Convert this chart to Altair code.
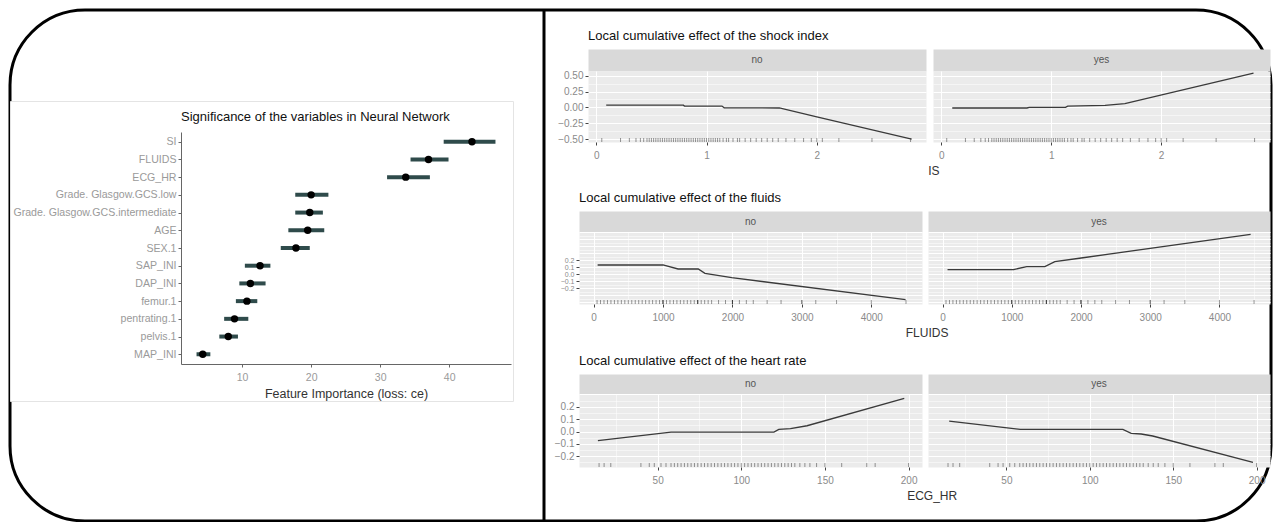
import altair as alt
import pandas as pd

# ---------------- data: feature importance ----------------
features = ["SI", "FLUIDS", "ECG_HR", "Grade. Glasgow.GCS.low", "Grade. Glasgow.GCS.intermediate",
            "AGE", "SEX.1", "SAP_INI", "DAP_INI", "femur.1", "pentrating.1", "pelvis.1", "MAP_INI"]
importance = [43.3, 37.0, 33.7, 20.0, 19.8, 19.5, 17.8, 12.6, 11.2, 10.7, 8.9, 8.0, 4.3]
imp_low = [39.2, 34.4, 31.0, 17.7, 17.7, 16.7, 15.6, 10.4, 9.6, 9.1, 7.4, 6.7, 3.4]
imp_high = [46.7, 39.9, 37.2, 22.5, 21.7, 21.9, 19.8, 14.1, 13.4, 12.2, 10.9, 9.4, 5.4]

# ---------------- data: ALE curves ----------------
si_no_x = [0.09, 0.79, 0.80, 1.14, 1.16, 1.66, 2.00, 2.86]
si_no_y = [0.035, 0.035, 0.02, 0.02, -0.006, -0.01, -0.15, -0.50]
si_yes_x = [0.10, 0.78, 0.80, 1.13, 1.15, 1.49, 1.67, 2.84]
si_yes_y = [-0.01, -0.01, 0.0, 0.0, 0.02, 0.03, 0.06, 0.54]
si_rug = [0.05, 0.22, 0.30, 0.36, 0.40, 0.43, 0.46, 0.48, 0.50, 0.52, 0.54, 0.56, 0.58, 0.60,
          0.62, 0.64, 0.66, 0.68, 0.70, 0.72, 0.74, 0.76, 0.78, 0.80, 0.82, 0.84, 0.86, 0.88,
          0.90, 0.92, 0.94, 0.96, 0.98, 1.00, 1.02, 1.04, 1.06, 1.08, 1.10, 1.12, 1.15, 1.18,
          1.20, 1.24, 1.28, 1.30, 1.35, 1.40, 1.45, 1.50, 1.55, 1.60, 1.65, 1.72, 1.80, 1.88,
          1.95, 2.00, 2.05, 2.20, 2.50, 2.85]

fl_no_x = [58, 1000, 1217, 1507, 1604, 1990, 4493]
fl_no_y = [0.133, 0.133, 0.076, 0.076, 0.014, -0.048, -0.362]
fl_yes_x = [72, 1025, 1216, 1478, 1622, 2003, 4450]
fl_yes_y = [0.067, 0.067, 0.11, 0.11, 0.181, 0.233, 0.571]
fl_rug = [50, 100, 150, 200, 250, 300, 350, 400, 450, 500, 550, 600, 650, 700, 750, 800, 850,
          900, 950, 1000, 1000, 1000, 1050, 1100, 1150, 1200, 1250, 1300, 1350, 1400, 1450,
          1500, 1500, 1500, 1550, 1600, 1650, 1700, 1800, 1900, 2000, 2000, 2000, 2100, 2200,
          2300, 2500, 2700, 3000, 3000, 3200, 3500, 4000, 4500]

hr_no_x = [14.3, 58, 119.5, 122.4, 129.4, 139.3, 197.4]
hr_no_y = [-0.074, -0.004, -0.004, 0.018, 0.023, 0.047, 0.269]
hr_yes_x = [15.7, 58.3, 119.8, 124.8, 130.8, 137.7, 197.8]
hr_yes_y = [0.085, 0.018, 0.018, -0.015, -0.02, -0.036, -0.25]
hr_rug = [15, 18, 22, 40, 45, 48, 52, 55, 58, 60, 62, 64, 66, 68, 70, 72, 74, 76, 78, 80, 82,
          84, 86, 88, 90, 92, 94, 96, 98, 100, 102, 104, 106, 108, 110, 112, 114, 116, 118, 120,
          122, 124, 126, 128, 130, 132, 135, 138, 141, 145, 150, 160, 175, 180, 200]

# axis tick positions (major + minor)
si_xticks = [0, 0.5, 1, 1.5, 2, 2.5]
si_yticks = [-0.5, -0.375, -0.25, -0.125, 0, 0.125, 0.25, 0.375, 0.5]
fl_xticks = [0, 500, 1000, 1500, 2000, 2500, 3000, 3500, 4000, 4500]
fl_yticks = [-0.4, -0.35, -0.3, -0.25, -0.2, -0.15, -0.1, -0.05, 0, 0.05, 0.1, 0.15, 0.2,
             0.25, 0.3, 0.35, 0.4, 0.45, 0.5, 0.55, 0.6]
hr_xticks = [25, 50, 75, 100, 125, 150, 175, 200]
hr_yticks = [-0.25, -0.2, -0.15, -0.1, -0.05, 0, 0.05, 0.1, 0.15, 0.2, 0.25, 0.3]

FONT = "Liberation Sans"
one = pd.DataFrame({"a": [""]})


def spacer(w, h):
    # empty block of a given size (invisible zero-size point, so it adds no overflow)
    return alt.Chart(one).mark_point(opacity=0, size=0, strokeWidth=0).properties(
        width=w, height=h)


def strip(label, w, h, title=""):
    c = alt.Chart(pd.DataFrame({"lab": [label]})).mark_text(
        fontSize=10, color="#555555", font=FONT
    ).encode(text="lab:N")
    props = dict(width=w, height=h,
                 view=alt.ViewBackground(fill="#d9d9d9", stroke="transparent"))
    if title:
        props["title"] = alt.TitleParams(title, anchor="start", fontSize=13, fontWeight="normal",
                                         color="#111111", offset=6, font=FONT)
    return c.properties(**props)


def ale_panel(xs, ys, rug, xdom, ydom, w, h, xticks, yticks, xmajor, ymajor, ylabrange,
              yfmt, show_y, ylabsize=10):
    dline = pd.DataFrame({"x": xs, "y": ys})
    drug = pd.DataFrame({"x": rug})
    xs_ = alt.Scale(domain=xdom, nice=False, zero=False)
    ys_ = alt.Scale(domain=ydom, nice=False, zero=False)
    xaxis = alt.Axis(
        values=xticks, format="d", labelExpr=f"({xmajor}) ? datum.label : ''",
        grid=True, gridColor="white",
        gridWidth={"condition": {"test": xmajor, "value": 1.1}, "value": 0.5},
        tickOpacity={"condition": {"test": xmajor, "value": 1}, "value": 0},
        domain=False, tickColor="#444444", tickSize=3, labelColor="#8a8a8a",
        labelFontSize=10, labelPadding=5, labelOverlap=False, labelFlush=False, title="",
    )
    ytest = f"({ymajor}) && abs(datum.value) <= {ylabrange}"
    if show_y:
        yaxis = alt.Axis(
            values=yticks, format=yfmt, labelExpr=f"({ytest}) ? datum.label : ''",
            grid=True, gridColor="white",
            gridWidth={"condition": {"test": ymajor, "value": 1.1}, "value": 0.5},
            tickOpacity={"condition": {"test": ytest, "value": 1}, "value": 0},
            domain=False, tickColor="#444444", tickSize=3, labelColor="#8a8a8a",
            labelFontSize=ylabsize, labelPadding=2, labelOverlap=False, labelFlush=False,
            title="",
        )
    else:
        yaxis = alt.Axis(
            values=yticks, labels=False, ticks=False, domain=False, grid=True,
            gridColor="white",
            gridWidth={"condition": {"test": ymajor, "value": 1.1}, "value": 0.5}, title="",
        )
    rug_layer = alt.Chart(drug).mark_rule(color="black", opacity=0.4, strokeWidth=1).encode(
        x=alt.X("x:Q", scale=xs_, axis=xaxis),
        y=alt.value(h - 4), y2=alt.value(h),
    )
    line_layer = alt.Chart(dline).mark_line(color="#3a3a3a", strokeWidth=1.3, clip=True).encode(
        x=alt.X("x:Q", scale=xs_, axis=xaxis),
        y=alt.Y("y:Q", scale=ys_, axis=yaxis),
    )
    return alt.layer(rug_layer, line_layer).properties(
        width=w, height=h, view=alt.ViewBackground(fill="#ebebeb", stroke="transparent")
    )


def ale_row(title, xtitle, dx, no_p, yes_p, wn, wy, gap, sh):
    col_no = alt.vconcat(strip("no", wn, sh, title), no_p, spacing=0, bounds="flush")
    col_yes = alt.vconcat(strip("yes", wy, sh), yes_p, spacing=0, bounds="flush")
    return alt.hconcat(
        col_no, col_yes, spacing=gap,
        title=alt.TitleParams(xtitle, orient="bottom", anchor="middle", dx=dx, fontSize=12,
                              fontWeight="normal", color="#333333", offset=5, font=FONT),
    )


# ---------------- left: importance dot plot ----------------
dimp = pd.DataFrame({"feature": features, "imp": importance, "lo": imp_low, "hi": imp_high})
ysc = alt.Scale(type="point", padding=0.55)
yax = alt.Axis(title="", labelColor="#9a9a9a", labelFontSize=10.6, tickColor="#666666",
               tickSize=3, domainColor="#666666", grid=False, labelPadding=2)
xsc = alt.Scale(domain=[1.15, 48.95], nice=False, zero=False)
xax = alt.Axis(values=[10, 20, 30, 40], title="Feature Importance (loss: ce)", titleFontSize=12.5,
               titleColor="#333333", titleFontWeight="normal", labelColor="#9a9a9a",
               labelFontSize=10.5, tickColor="#666666", domainColor="#666666", grid=False,
               tickSize=3, labelPadding=5, titlePadding=5)
err = alt.Chart(dimp).mark_rule(color="#2f4b4b", strokeWidth=4).encode(
    x=alt.X("lo:Q", scale=xsc, axis=xax), x2="hi:Q",
    y=alt.Y("feature:N", sort=features, scale=ysc, axis=yax),
)
pts = alt.Chart(dimp).mark_circle(size=55, color="black", opacity=1).encode(
    x=alt.X("imp:Q", scale=xsc, axis=xax),
    y=alt.Y("feature:N", sort=features, scale=ysc, axis=yax),
)
dot = alt.layer(err, pts).properties(
    width=330, height=232,
    title=alt.TitleParams("Significance of the variables in Neural Network", anchor="start",
                          frame="group", fontSize=13, fontWeight="normal", color="#111111",
                          offset=8, font=FONT),
)

# ---------------- right: ALE rows ----------------
MAJ1 = "abs(datum.value) % 1 < 1e-6"
MAJ025 = "abs(datum.value*4 - round(datum.value*4)) < 1e-6"
row1 = ale_row(
    "Local cumulative effect of the shock index", "IS", 20,
    ale_panel(si_no_x, si_no_y, si_rug, [-0.075, 2.99], [-0.547, 0.574], 338, 71, si_xticks,
              si_yticks, MAJ1, MAJ025, 0.51, ".2f", True),
    ale_panel(si_yes_x, si_yes_y, si_rug, [-0.075, 2.99], [-0.547, 0.574], 337, 71, si_xticks,
              si_yticks, MAJ1, MAJ025, 0.51, ".2f", False),
    338, 337, 5, 22,
)
MAJ1000 = "abs(datum.value) % 1000 < 1e-6"
MAJ01 = "abs(datum.value*10 - round(datum.value*10)) < 1e-6"
row2 = ale_row(
    "Local cumulative effect of the fluids", "FLUIDS", 12,
    ale_panel(fl_no_x, fl_no_y, fl_rug, [-210, 4730], [-0.424, 0.604], 343, 72, fl_xticks,
              fl_yticks, MAJ1000, MAJ01, 0.201, ".1f", True, 7),
    ale_panel(fl_yes_x, fl_yes_y, fl_rug, [-210, 4730], [-0.424, 0.604], 342, 72, fl_xticks,
              fl_yticks, MAJ1000, MAJ01, 0.201, ".1f", False),
    343, 342, 4, 21,
)
MAJ50 = "abs(datum.value) % 50 < 1e-6"
row3 = ale_row(
    "Local cumulative effect of the heart rate", "ECG_HR", 20,
    ale_panel(hr_no_x, hr_no_y, hr_rug, [3, 208], [-0.287, 0.304], 343, 73, hr_xticks,
              hr_yticks, MAJ50, MAJ01, 0.201, ".1f", True),
    ale_panel(hr_yes_x, hr_yes_y, hr_rug, [3, 208], [-0.287, 0.304], 342, 73, hr_xticks,
              hr_yticks, MAJ50, MAJ01, 0.201, ".1f", False),
    343, 342, 4, 20,
)

# ---------------- composition ----------------
FW, FH = 1261, 511
frame = alt.Chart(one).mark_point(opacity=0, size=0, strokeWidth=0).properties(
    width=FW, height=FH,
    view=alt.ViewBackground(stroke="black", strokeWidth=3, cornerRadius=75, fill="white"),
)
divider = alt.Chart(one).mark_point(opacity=0, size=0, strokeWidth=0).properties(
    width=3, height=FH, view=alt.ViewBackground(fill="black", stroke="transparent")
)
plotbox = alt.Chart(one).mark_point(opacity=0, size=0, strokeWidth=0).properties(
    width=503, height=300,
    view=alt.ViewBackground(stroke="#e4e4e4", strokeWidth=1, fill="white"),
)

left_block = alt.vconcat(
    spacer(1, 100), alt.hconcat(spacer(2, 1), dot, spacing=0),
    spacing=0,
)
right_block = alt.vconcat(
    spacer(1, 19),
    alt.hconcat(spacer(5, 1), row1, spacing=0),
    spacer(1, 14),
    alt.hconcat(spacer(7, 1), row2, spacing=0),
    spacer(1, 15),
    alt.hconcat(spacer(1, 1), row3, spacing=0),
    spacing=0,
)
content = alt.hconcat(left_block, right_block, spacing=40)

# nested concats count as zero-size in a flush layout, so these layers overlap
chart = alt.vconcat(
    alt.hconcat(frame),
    alt.vconcat(spacer(1, 90), plotbox, spacing=0),
    alt.hconcat(spacer(531, 1), divider, spacing=0),
    content,
    spacing=0, bounds="flush",
).properties(padding=0, background="white").configure(font=FONT).configure_view(
    stroke="transparent")

chart.save("out.html", embed_options={"renderer": "svg", "actions": False})
